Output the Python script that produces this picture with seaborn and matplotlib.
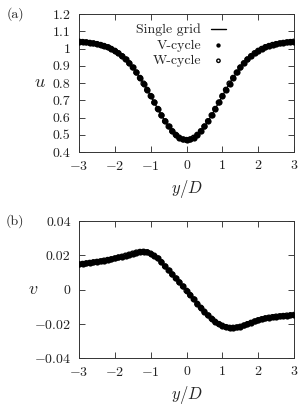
import numpy as np
import pandas as pd
import matplotlib
matplotlib.use("Agg")
import matplotlib.pyplot as plt
import seaborn as sns

# profiles, y/D from -3 to 3 in steps of 0.1
y_pos = [round(-3 + 0.1 * i, 1) for i in range(61)]

# u is symmetric about y/D = 0: values from 0 to 3
u_half = [0.470, 0.473, 0.483, 0.500, 0.521, 0.548, 0.579, 0.613, 0.650, 0.687,
          0.725, 0.761, 0.797, 0.830, 0.861, 0.890, 0.915, 0.937, 0.956, 0.973,
          0.987, 0.998, 1.008, 1.015, 1.021, 1.026, 1.030, 1.033, 1.036, 1.038,
          1.040]
u_vals = u_half[::-1] + u_half[1:]

v_vals = [0.0147, 0.0150, 0.0153, 0.0156, 0.0159, 0.0162, 0.0165, 0.0169, 0.0173, 0.0177,
          0.0182, 0.0187, 0.0192, 0.0198, 0.0204, 0.0210, 0.0216, 0.0220, 0.0221, 0.0218,
          0.0210, 0.0198, 0.0182, 0.0160, 0.0135, 0.0111, 0.0088, 0.0065, 0.0042, 0.0018,
          -0.0007, -0.0032, -0.0057, -0.0083, -0.0106, -0.0129, -0.0151, -0.0170, -0.0188, -0.0201,
          -0.0211, -0.0219, -0.0223, -0.0223, -0.0221, -0.0217, -0.0210, -0.0202, -0.0194, -0.0186,
          -0.0179, -0.0173, -0.0168, -0.0164, -0.0161, -0.0158, -0.0156, -0.0154, -0.0152, -0.0150,
          -0.0148]

u_ticks = [0.4, 0.5, 0.6, 0.7, 0.8, 0.9, 1, 1.1, 1.2]
v_ticks = [-0.04, -0.02, 0, 0.02, 0.04]
x_ticks = [-3, -2, -1, 0, 1, 2, 3]

df = pd.DataFrame({"y": y_pos, "u": u_vals, "v": v_vals})

sns.set_style("ticks")
plt.rcParams["font.family"] = ["cmr10", "DejaVu Serif"]
plt.rcParams["mathtext.fontset"] = "cm"
plt.rcParams["axes.formatter.use_mathtext"] = True
plt.rcParams["axes.unicode_minus"] = True

fig = plt.figure(figsize=(2.99, 4.07), dpi=100)
W, H = 299, 407
ax1 = fig.add_axes([79 / W, 1 - 152 / H, 215 / W, 138 / H])
ax2 = fig.add_axes([79 / W, 1 - 358 / H, 215 / W, 137 / H])


def draw(ax, col, ticks, fmt):
    sns.lineplot(data=df, x="y", y=col, ax=ax, color="black", lw=1, label="Single grid")
    sns.scatterplot(data=df, x="y", y=col, ax=ax, color="black", s=20, edgecolor="black",
                    linewidth=0, label="V-cycle", zorder=3)
    sns.scatterplot(data=df, x="y", y=col, ax=ax, color="none", s=12, edgecolor="black",
                    linewidth=1.0, label="W-cycle", zorder=4)
    ax.set_xlim(-3, 3)
    ax.set_ylim(ticks[0], ticks[-1])
    ax.set_xticks(x_ticks)
    ax.set_yticks(ticks)
    ax.set_yticklabels([fmt(t) for t in ticks])
    ax.set_xticklabels([f"${t}$" if t < 0 else str(t) for t in x_ticks])
    ax.tick_params(direction="in", top=True, right=True, labelsize=10, length=4,
                   width=0.6, pad=6, colors="#222222")
    for s in ax.spines.values():
        s.set_linewidth(0.7)
        s.set_color("#333333")
    ax.set_xlabel("$y/D$", fontsize=12, labelpad=3)
    ax.set_ylabel("")


draw(ax1, "u", u_ticks, lambda t: f"{t:g}")
draw(ax2, "v", v_ticks, lambda t: f"${t:g}$" if t < 0 else f"{t:g}")

leg = ax1.legend(loc="upper right", bbox_to_anchor=(0.71, 0.97), frameon=False,
                 markerfirst=False, fontsize=10, handlelength=1.1, handletextpad=0.7,
                 labelspacing=0.2, borderaxespad=0, markerscale=0.7)
ax2.get_legend().remove()

fig.text(40 / W, 1 - 82 / H, "$u$", fontsize=13, ha="center", va="center")
fig.text(33 / W, 1 - 289 / H, "$v$", fontsize=13, ha="center", va="center")
fig.text(15 / W, 1 - 14 / H, "(a)", fontsize=10, ha="center", va="center")
fig.text(15 / W, 1 - 221 / H, "(b)", fontsize=10, ha="center", va="center")

fig.savefig("out.png", dpi=100)
